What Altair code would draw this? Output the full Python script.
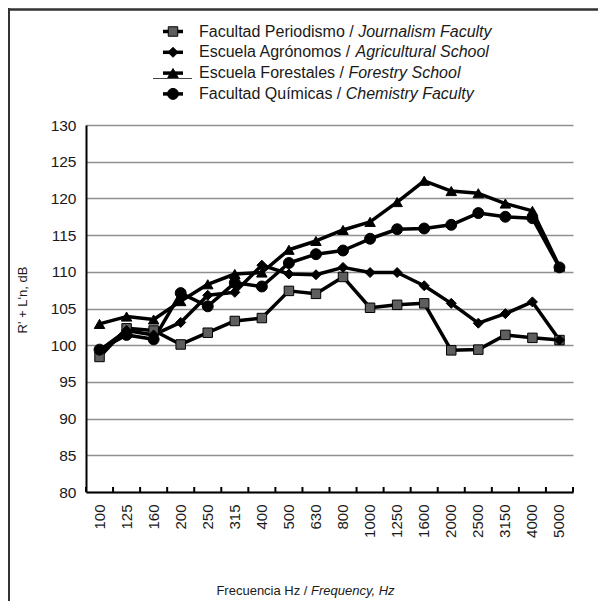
import altair as alt
import pandas as pd

# ---------------- data ----------------
freqs = ["100", "125", "160", "200", "250", "315", "400", "500", "630", "800",
         "1000", "1250", "1600", "2000", "2500", "3150", "4000", "5000"]
periodismo = [98.4, 102.3, 102.0, 100.1, 101.7, 103.3, 103.7, 107.4, 107.0, 109.3,
              105.1, 105.5, 105.7, 99.3, 99.4, 101.4, 101.0, 100.7]
agronomos = [99.3, 102.0, 101.4, 103.1, 106.8, 107.2, 110.9, 109.7, 109.6, 110.6,
             109.9, 109.9, 108.1, 105.7, 103.0, 104.3, 105.9, 100.7]
forestales = [102.9, 103.9, 103.5, 106.0, 108.3, 109.7, 109.9, 113.0, 114.2, 115.7,
              116.8, 119.5, 122.4, 121.0, 120.7, 119.3, 118.3, 110.7]
quimicas = [99.4, 101.4, 100.8, 107.1, 105.3, 108.5, 108.0, 111.2, 112.4, 112.9,
            114.5, 115.8, 115.9, 116.4, 118.0, 117.5, 117.3, 110.6]

series_es = ["Facultad Periodismo", "Escuela Agrónomos", "Escuela Forestales", "Facultad Químicas"]
series_en = ["Journalism Faculty", "Agricultural School", "Forestry School", "Chemistry Faculty"]
series_vals = [periodismo, agronomos, forestales, quimicas]

y_ticks = [80, 85, 90, 95, 100, 105, 110, 115, 120, 125, 130]
y_title = "R' + L'n, dB"
x_title_es = "Frecuencia Hz / "
x_title_en = "Frequency, Hz"

# ---------------- styles ----------------
FONT = "Liberation Sans"
shapes = ["square", "diamond", "triangle-up", "circle"]
sizes = [90, 120, 140, 150]
fills = ["#5e5e5e", "#000000", "#000000", "#000000"]
W, H = 487, 367

# Arial / Liberation Sans advance widths (1/1000 em)
AW = {' ': 278, '/': 278, ',': 278, 'A': 667, 'C': 722, 'E': 667, 'F': 611, 'H': 722,
      'J': 500, 'P': 667, 'Q': 778, 'S': 667, 'a': 556, 'c': 500, 'd': 556, 'e': 556,
      'f': 278, 'g': 556, 'h': 556, 'i': 222, 'í': 278, 'l': 222, 'm': 833, 'n': 556,
      'o': 556, 'ó': 556, 'q': 556, 'r': 333, 's': 500, 't': 278, 'u': 556, 'y': 500,
      'z': 500}


def tw(s, size):
    return sum(AW.get(c, 556) for c in s) * size / 1000.0


# long table for the data marks
rows = []
for name, vals in zip(series_es, series_vals):
    for f, v in zip(freqs, vals):
        rows.append({"freq": f, "value": v, "series": name})
df = pd.DataFrame(rows)

xscale = alt.Scale(type="band", domain=freqs, paddingInner=0, paddingOuter=0)
yscale = alt.Scale(domain=[80, 130], nice=False, zero=False)
shape_scale = alt.Scale(domain=series_es, range=shapes)
size_scale = alt.Scale(domain=series_es, range=sizes)
fill_scale = alt.Scale(domain=series_es, range=fills)

x_axis = alt.Axis(title=None, labelAngle=270, labelPadding=12, ticks=False,
                  domainColor="black", domainWidth=2, labelFontSize=15,
                  labelColor="#1a1a1a", grid=False, labelOverlap=False)
y_axis = alt.Axis(title=None, values=y_ticks, tickCount=11, ticks=False, labelPadding=10,
                  domainColor="black", domainWidth=2, labelFontSize=15.5,
                  labelColor="#1a1a1a", grid=True, gridColor="#8f8f8f",
                  gridWidth=1.6, labelOverlap=False)

base = alt.Chart(df)

lines = base.mark_line(color="black", strokeWidth=3.5, strokeJoin="round").encode(
    x=alt.X("freq:N", scale=xscale, sort=freqs, axis=x_axis),
    y=alt.Y("value:Q", scale=yscale, axis=y_axis),
    detail="series:N",
)

points = base.mark_point(filled=True, stroke="black", strokeWidth=1, opacity=1).encode(
    x=alt.X("freq:N", scale=xscale, sort=freqs, axis=x_axis),
    y=alt.Y("value:Q", scale=yscale, axis=y_axis),
    shape=alt.Shape("series:N", scale=shape_scale, legend=None),
    size=alt.Size("series:N", scale=size_scale, legend=None),
    fill=alt.Fill("series:N", scale=fill_scale, legend=None),
)

# inside tick marks between categories
tick_df = pd.DataFrame({"freq": freqs})
ticks_left = alt.Chart(tick_df).mark_rule(color="black", strokeWidth=2).encode(
    x=alt.X("freq:N", scale=xscale, sort=freqs, bandPosition=0, axis=x_axis),
    y=alt.value(H), y2=alt.value(H - 5))
ticks_last = alt.Chart(pd.DataFrame({"freq": freqs[-1:]})).mark_rule(
    color="black", strokeWidth=2).encode(
    x=alt.X("freq:N", scale=xscale, sort=freqs, bandPosition=1, axis=x_axis),
    y=alt.value(H), y2=alt.value(H - 5))

# ---------------- legend (custom, mixed roman/italic) ----------------
LFS = 16
leg_x_text = 113
leg_rows = []
for i, (es, en) in enumerate(zip(series_es, series_en)):
    normal = es + " / "
    leg_rows.append({"series": es, "normal": normal, "italic": en,
                     "py": -93.5 + 20.8 * i,
                     "px": leg_x_text, "pxi": leg_x_text + tw(normal, LFS),
                     "lx1": 77, "lx2": 97, "sx": 87})
leg = pd.DataFrame(leg_rows)
lb = alt.Chart(leg)
leg_lines = lb.mark_rule(color="black", strokeWidth=3.5).encode(
    x=alt.X("lx1:Q", scale=None), x2="lx2:Q", y=alt.Y("py:Q", scale=None))
leg_pts = lb.mark_point(filled=True, stroke="black", strokeWidth=1, opacity=1).encode(
    x=alt.X("sx:Q", scale=None), y=alt.Y("py:Q", scale=None),
    shape=alt.Shape("series:N", scale=shape_scale, legend=None),
    size=alt.Size("series:N", scale=size_scale, legend=None),
    fill=alt.Fill("series:N", scale=fill_scale, legend=None))
leg_txt = lb.mark_text(align="left", baseline="middle", fontSize=LFS, color="#1a1a1a").encode(
    x=alt.X("px:Q", scale=None), y=alt.Y("py:Q", scale=None), text="normal:N")
leg_txt_i = lb.mark_text(align="left", baseline="middle", fontSize=LFS, fontStyle="italic",
                         color="#1a1a1a").encode(
    x=alt.X("pxi:Q", scale=None), y=alt.Y("py:Q", scale=None), text="italic:N")
leg_stray = alt.Chart(pd.DataFrame({"a": [0]})).mark_rule(color="#444", strokeWidth=1).encode(
    x=alt.value(67), x2=alt.value(106), y=alt.value(-46.5))

# ---------------- axis titles ----------------
TFS = 13
xt_c = 220
wn, wi = tw(x_title_es, TFS), tw(x_title_en, TFS)
start = xt_c - (wn + wi) / 2
xt = pd.DataFrame({"n": [x_title_es.strip()], "i": [x_title_en],
                   "sx": [start], "sxi": [start + wn], "sy": [466]})
xt_n = alt.Chart(xt).mark_text(align="left", baseline="middle", fontSize=TFS, color="#1a1a1a").encode(
    x=alt.X("sx:Q", scale=None), y=alt.Y("sy:Q", scale=None), text="n:N")
xt_i = alt.Chart(xt).mark_text(align="left", baseline="middle", fontSize=TFS, fontStyle="italic",
                               color="#1a1a1a").encode(
    x=alt.X("sxi:Q", scale=None), y=alt.Y("sy:Q", scale=None), text="i:N")
yt = alt.Chart(pd.DataFrame({"t": [y_title], "sx": [-63], "sy": [175]})).mark_text(
    align="center", baseline="middle", fontSize=TFS, angle=270, color="#1a1a1a").encode(
    x=alt.X("sx:Q", scale=None), y=alt.Y("sy:Q", scale=None), text="t:N")

# ---------------- outer frame ----------------
frame_l = alt.Chart(pd.DataFrame({"a": [0]})).mark_rule(color="#333", strokeWidth=2).encode(
    x=alt.value(-77), y=alt.value(-117), y2=alt.value(476))
frame_t = alt.Chart(pd.DataFrame({"a": [0]})).mark_rule(color="#333", strokeWidth=2.5).encode(
    x=alt.value(-78), x2=alt.value(512), y=alt.value(-115.5))

chart = alt.layer(
    lines, points, ticks_left, ticks_last,
    leg_lines, leg_pts, leg_txt, leg_txt_i, leg_stray,
    xt_n, xt_i, yt, frame_l, frame_t,
).properties(
    width=W, height=H,
    autosize=alt.AutoSizeParams(type="none"),
    padding={"left": 78, "top": 117, "right": 25, "bottom": 109},
).configure(font=FONT).configure_view(stroke=None)

chart.save("out.html", embed_options={"renderer": "svg", "actions": False})
